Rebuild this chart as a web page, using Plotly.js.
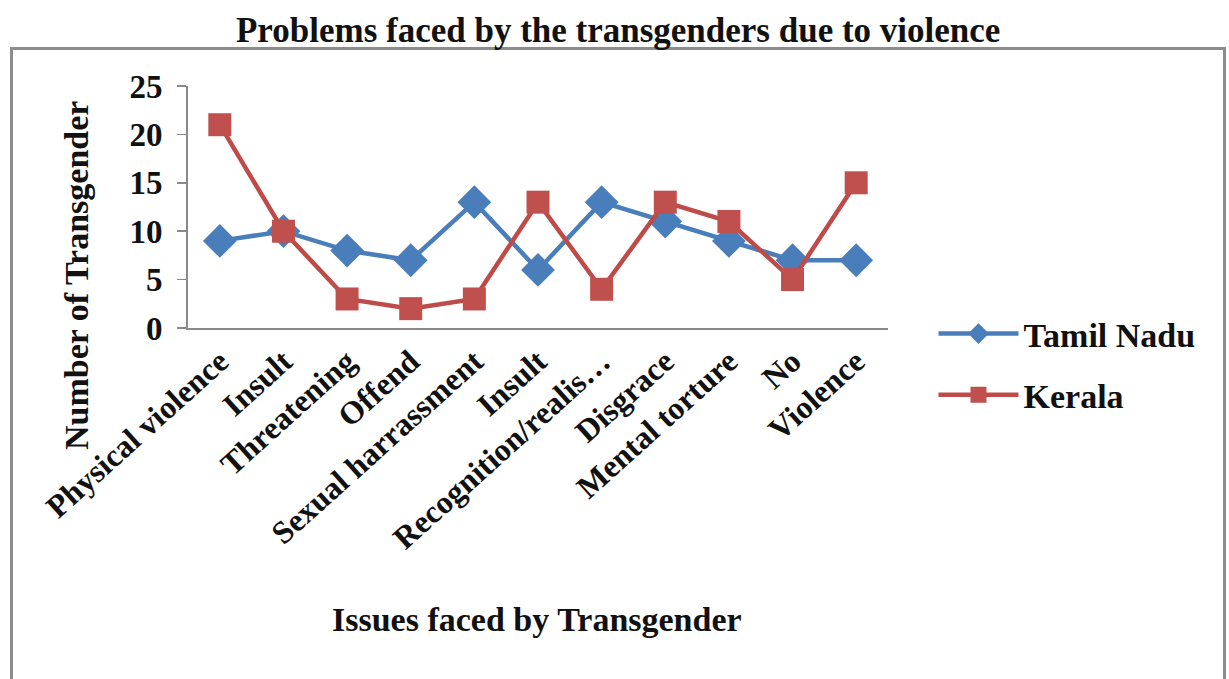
<!DOCTYPE html>
<html>
<head>
<meta charset="utf-8">
<script src="https://cdn.plot.ly/plotly-3.0.1.min.js"></script>
<style>
  html, body { margin: 0; padding: 0; background: #fff; overflow: hidden; }
  #wrap { position: relative; width: 1229px; height: 679px; }
  #chart { position: absolute; left: 0; top: 0; width: 1229px; height: 679px; }
  #frame { position: absolute; left: 10px; top: 47px; width: 1216px; height: 660px;
           border: 3px solid #8c8c8c; pointer-events: none; box-sizing: border-box; }
</style>
</head>
<body>
<div id="wrap">
  <div id="frame"></div>
  <div id="chart"></div>
</div>
<script>
const categories = ["Physical violence", "Insult", "Threatening", "Offend", "Sexual harrassment",
                    "Insult", "Recognition/realis…", "Disgrace", "Mental torture", "No", "Violence"];
const tamilNadu = [9, 10, 8, 7, 13, 6, 13, 11, 9, 7, 7];
const kerala = [21, 10, 3, 2, 3, 13, 4, 13, 11, 5, 15];
const yTicks = [0, 5, 10, 15, 20, 25];
const seriesNames = ["Tamil Nadu", "Kerala"];

const positions = categories.map((c, i) => i);
const FONT = "Liberation Serif, Times New Roman, serif";

const traces = [
  {
    x: positions, y: tamilNadu, name: "<b>" + seriesNames[0] + "</b>", type: "scatter", mode: "lines+markers",
    line: { color: "#4A7EBB", width: 4.5 },
    marker: { symbol: "diamond", size: 26, color: "#4A7EBB" },
    legendgroup: "a"
  },
  {
    x: positions, y: kerala, name: "<b>" + seriesNames[1] + "</b>", type: "scatter", mode: "lines+markers",
    line: { color: "#BE4B48", width: 4.5 },
    marker: { symbol: "square", size: 23, color: "#C0504D" },
    legendgroup: "b"
  }
];

const layout = {
  width: 1229, height: 679,
  margin: { l: 188, r: 341, t: 86, b: 351 },
  paper_bgcolor: "rgba(0,0,0,0)",
  plot_bgcolor: "rgba(0,0,0,0)",
  font: { family: FONT, color: "#111", size: 30 },
  title: {
    text: "<b>Problems faced by the transgenders due to violence</b>",
    font: { family: FONT, size: 35, color: "#111" },
    x: 0.503, xref: "container", xanchor: "center",
    y: 1 - 30 / 679, yref: "container", yanchor: "middle"
  },
  xaxis: {
    range: [-0.5, 10.5],
    tickmode: "array", tickvals: positions, ticktext: categories.map(c => "<b>" + c + "</b>"),
    tickangle: -42,
    tickfont: { family: FONT, size: 32, color: "#111" },
    showline: true, linecolor: "#8a8a8a", linewidth: 2,
    showgrid: false, zeroline: false, ticks: "",
    fixedrange: true
  },
  yaxis: {
    range: [0, 25],
    tickmode: "array", tickvals: yTicks, ticktext: yTicks.map(v => "<b>" + v + "</b>"),
    tickfont: { family: FONT, size: 33, color: "#111" },
    showline: true, linecolor: "#8a8a8a", linewidth: 2,
    ticks: "outside", ticklen: 9, tickcolor: "#8a8a8a", tickwidth: 1.5,
    ticklabelstandoff: 8,
    showgrid: false, zeroline: false, fixedrange: true
  },
  showlegend: true,
  legend: {
    x: 1.065, xanchor: "left", y: 0.095, yanchor: "top",
    font: { family: FONT, size: 34, color: "#111" },
    traceorder: "grouped", tracegroupgap: 14,
    itemwidth: 80, bgcolor: "rgba(0,0,0,0)"
  },
  annotations: [
    {
      text: "<b>Number of Transgender</b>", textangle: -90,
      xref: "paper", yref: "paper",
      x: (76 - 188) / 700, y: 1 - (276 - 86) / 242,
      xanchor: "center", yanchor: "middle", showarrow: false,
      font: { family: FONT, size: 34, color: "#111" }
    },
    {
      text: "<b>Issues faced by Transgender</b>",
      xref: "paper", yref: "paper",
      x: (537 - 188) / 700, y: 1 - (619 - 86) / 242,
      xanchor: "center", yanchor: "middle", showarrow: false,
      font: { family: FONT, size: 34, color: "#111" }
    }
  ]
};

Plotly.newPlot("chart", traces, layout, { displayModeBar: false, staticPlot: true });
</script>
</body>
</html>
